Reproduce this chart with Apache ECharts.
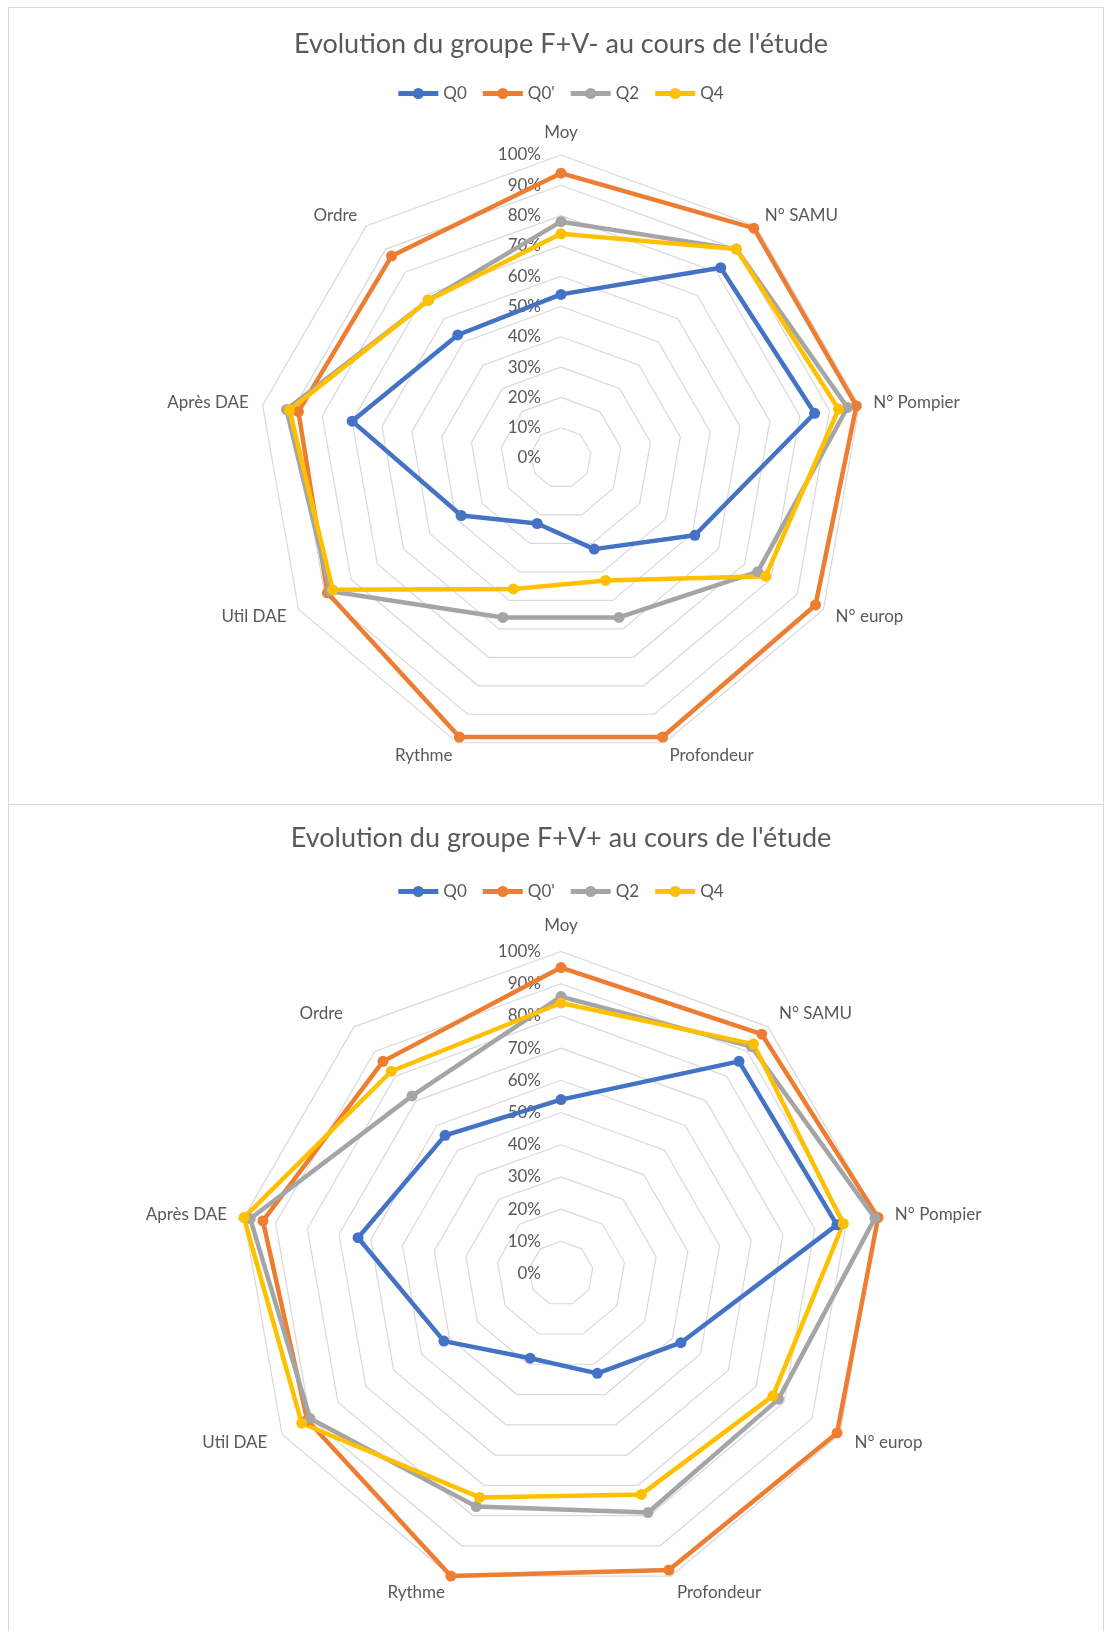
<!DOCTYPE html>
<html>
<head>
<meta charset="utf-8">
<title>Evolution des groupes F+V- et F+V+</title>
<script src="https://cdn.jsdelivr.net/npm/echarts@6/dist/echarts.min.js"></script>
<style>
  html, body { margin: 0; padding: 0; background: #fff; overflow: hidden; }
  body { width: 1105px; height: 1631px; position: relative; }
  .frame { position: absolute; border: 1px solid #d9d9d9; box-sizing: border-box; }
  .chart { position: absolute; left: 0; width: 1122px; }
</style>
</head>
<body>
  <div class="frame" style="left:8px; top:7px; width:1096px; height:798px"></div>
  <div class="frame" style="left:8px; top:804px; width:1096px; height:840px"></div>
  <div id="chartMinus" class="chart" style="top:0; height:805px"></div>
  <div id="chartPlus" class="chart" style="top:805px; height:826px"></div>
<script>
// axes of the radar, clockwise from the top
const indicators = ['Moy', 'N° SAMU', 'N° Pompier', 'N° europ', 'Profondeur', 'Rythme', 'Util DAE', 'Après DAE', 'Ordre']
const seriesNames = ['Q0', "Q0'", 'Q2', 'Q4']

// groupe F+V- (percent)
const minusQ0 = [54, 82, 85, 51, 32, 23, 38, 70, 53]
const minusQ0b = [94, 99, 99, 97, 98, 98, 89, 88, 87]
const minusQ2 = [78, 90, 96, 75, 56, 56, 88, 92, 68]
const minusQ4 = [74, 90, 93, 78, 43, 46, 87, 91, 68]

// groupe F+V+ (percent)
const plusQ0 = [54, 86, 87, 43, 33, 28, 42, 64, 56]
const plusQ0b = [95, 97, 100, 99, 98, 100, 91, 94, 86]
const plusQ2 = [86, 92, 99, 78, 79, 77, 90, 98, 72]
const plusQ4 = [84, 93, 89, 76, 73, 74, 93, 100, 82]

const colors = ['#4472C4', '#ED7D31', '#A5A5A5', '#FFC000']
const FONT = 'Lato, "Noto Sans", sans-serif'
const TEXT = '#595959'
// line with a dot in the middle, like the excel legend
const LEGEND_ICON = 'path://M0,2.6H40V7.4H0Z M14.5,5A5.5,5.5 0 1,1 25.5,5A5.5,5.5 0 1,1 14.5,5Z'

// echarts lays indicators out counter-clockwise, excel goes clockwise:
// keep the first axis on top and reverse the others
function clockwise (arr) {
  return [arr[0]].concat(arr.slice(1).reverse())
}

function buildOption (title, values, geo) {
  return {
    animation: false,
    title: {
      text: title,
      left: 'center',
      top: geo.titleTop,
      textStyle: { fontFamily: FONT, fontSize: 27, fontWeight: 'normal', color: TEXT }
    },
    legend: {
      data: seriesNames,
      top: geo.legendTop,
      left: 'center',
      icon: LEGEND_ICON,
      itemWidth: 40,
      itemHeight: 11,
      itemGap: 16,
      textStyle: { fontFamily: FONT, fontSize: 17, color: TEXT }
    },
    radar: {
      center: geo.center,
      radius: geo.radius,
      startAngle: 90,
      splitNumber: 10,
      shape: 'polygon',
      nameGap: geo.nameGap,
      // only the first axis (Moy) carries the % labels
      indicator: clockwise(indicators).map((name, i) => ({ name: name, min: 0, max: 100, axisLabel: { show: i === 0 } })),
      axisName: { color: TEXT, fontFamily: FONT, fontSize: 17 },
      axisLine: { show: false },
      axisTick: { show: false },
      splitArea: { show: false },
      splitLine: { lineStyle: { color: '#d9d9d9', width: 1.2 } },
      axisLabel: { show: false, formatter: '{value}%', margin: 20, color: TEXT, fontFamily: FONT, fontSize: 17 }
    },
    series: seriesNames.map((name, i) => ({
      type: 'radar',
      name: name,
      symbol: 'circle',
      symbolSize: 11,
      lineStyle: { width: 4.5, color: colors[i] },
      itemStyle: { color: colors[i] },
      data: [{ name: name, value: clockwise(values[i]) }]
    }))
  }
}

let minusChart = echarts.init(document.getElementById('chartMinus'))
minusChart.setOption(buildOption(
  "Evolution du groupe F+V- au cours de l'étude",
  [minusQ0, minusQ0b, minusQ2, minusQ4],
  { center: [561, 458], radius: 303, nameGap: 14, titleTop: 26, legendTop: 80 }
))

let plusChart = echarts.init(document.getElementById('chartPlus'))
plusChart.setOption(buildOption(
  "Evolution du groupe F+V+ au cours de l'étude",
  [plusQ0, plusQ0b, plusQ2, plusQ4],
  { center: [561, 468.5], radius: 322, nameGap: 17, titleTop: 15, legendTop: 73 }
))
</script>
</body>
</html>
